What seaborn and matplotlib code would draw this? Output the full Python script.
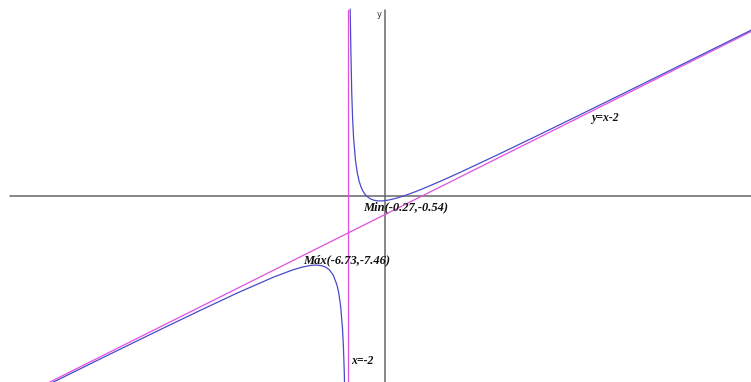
import numpy as np
import pandas as pd
import seaborn as sns
import matplotlib.pyplot as plt

# f(x) = (x^2 - 1) / (x + 2)
right_x = [-1.885, -1.85, -1.8, -1.75, -1.7, -1.6, -1.5, -1.4, -1.3, -1.2, -1.1, -1.0,
           -0.8, -0.6, -0.4, -0.27, -0.1, 0.2, 0.6, 1.0, 1.5, 2.0, 3.0, 4.0, 6.0,
           8.0, 10.0, 13.0, 16.0, 20.0]
right_y = [20.2, 16.15, 11.2, 8.25, 6.3, 3.9, 2.5, 1.6, 0.99, 0.55, 0.23, 0.0,
           -0.3, -0.457, -0.525, -0.536, -0.521, -0.436, -0.246, 0.0, 0.357, 0.75, 1.6, 2.5, 4.375,
           6.3, 8.25, 11.2, 14.17, 18.14]

left_x = [-21.0, -18.0, -15.0, -12.0, -10.0, -8.0, -6.0, -5.0, -4.5, -4.0, -3.73,
          -3.4, -3.2, -3.0, -2.8, -2.6, -2.5, -2.4, -2.3, -2.25, -2.2, -2.15]
left_y = [-23.16, -20.19, -17.23, -14.3, -12.38, -10.5, -8.75, -8.0, -7.7, -7.5, -7.464,
          -7.543, -7.7, -8.0, -8.55, -9.6, -10.5, -11.9, -14.3, -16.25, -19.2, -24.15]

# asymptotes
oblique_x = [-21.0, 20.0]
oblique_y = [-23.0, 18.0]
vertical_x = [-2.0, -2.0]
vertical_y = [20.1, -21.0]

labels = ["Min(-0.27,-0.54)", "Máx(-6.73,-7.46)", "x=-2", "y=x-2"]

sns.set_style("white")

fig = plt.figure(figsize=(7.51, 3.82), dpi=100)
ax = fig.add_axes([0, 0, 1, 1])

curve_col = "#4a4ac8"
asym_col = "#e050e0"
axis_col = "#666666"

# coordinate axes
ax.plot([-20.27, 20.0], [0, 0], color=axis_col, lw=1.1)
ax.plot([0, 0], [20.1, -21.0], color=axis_col, lw=1.1)

# asymptotes
sns.lineplot(x=oblique_x, y=oblique_y, color=asym_col, lw=0.9, estimator=None, ax=ax)
sns.lineplot(x=vertical_x, y=vertical_y, color=asym_col, lw=0.9,
             estimator=None, sort=False, orient="y", ax=ax)

# function branches
sns.lineplot(x=right_x, y=right_y, color=curve_col, lw=0.9, estimator=None, sort=False, ax=ax)
sns.lineplot(x=left_x, y=left_y, color=curve_col, lw=0.9, estimator=None, sort=False, ax=ax)

txt = dict(family="Liberation Serif", style="italic", weight="bold",
           color="#111111", va="center", ha="left")
ax.text(-1.19, -1.19, labels[0], fontsize=9, **txt)
ax.text(-4.43, -6.92, labels[1], fontsize=9, **txt)
ax.text(-1.84, -17.84, labels[2], fontsize=8.5, **txt)
ax.text(11.14, 8.43, labels[3], fontsize=8.5, **txt)
ax.text(-0.43, 19.6, "y", fontsize=6, color="#333333", va="center", ha="left")

ax.set_xlim(-20.81, 19.78)
ax.set_ylim(-20.11, 21.19)
ax.set_axis_off()

fig.savefig("out.png", dpi=100)
